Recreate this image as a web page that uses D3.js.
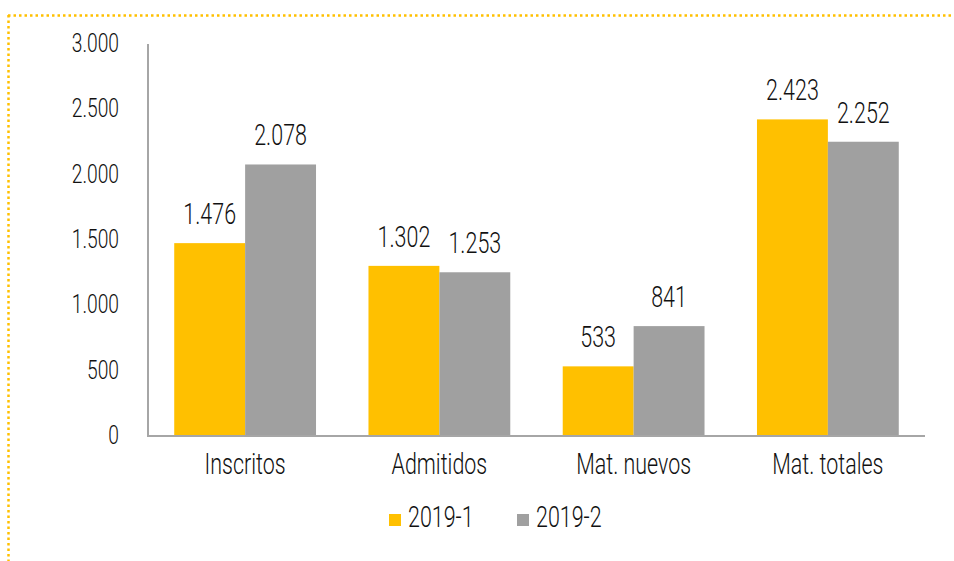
<!DOCTYPE html>
<html><head><meta charset="utf-8">
<script src="https://cdn.jsdelivr.net/npm/d3@7"></script>
<style>
body{margin:0;background:#fff;}
text{font-family:"Roboto","Liberation Sans",sans-serif;fill:#111;font-weight:300;}
</style></head>
<body><svg id="c" width="954" height="561"></svg>
<script>
const categories = ["Inscritos","Admitidos","Mat. nuevos","Mat. totales"];
const seriesNames = ["2019-1","2019-2"];
const values2019_1 = [1476,1302,533,2423];
const values2019_2 = [2078,1253,841,2252];
const yTicks = [0,500,1000,1500,2000,2500,3000];
const colors = ["#FFC000","#A0A0A0"];

const svg = d3.select("#c");
const fmt = v => d3.format(",")(v).replace(/,/g,".");
const SX = 0.74;
function label(x, y, txt, size, anchor){
  return svg.append("text").attr("transform",`translate(${x},${y}) scale(${SX},1)`)
    .attr("text-anchor",anchor).attr("font-size",size).text(txt);
}

// dotted frame
svg.append("line").attr("x1",8).attr("x2",954).attr("y1",15.5).attr("y2",15.5)
  .attr("stroke","#FFC000").attr("stroke-width",2.5).attr("stroke-dasharray","2.5 3");
svg.append("line").attr("x1",8.5).attr("x2",8.5).attr("y1",15).attr("y2",561)
  .attr("stroke","#FFC000").attr("stroke-width",2.5).attr("stroke-dasharray","2.5 3");

const x0 = d3.scaleBand().domain(categories).range([148,925]).paddingInner(0.27).paddingOuter(0.135);
const x1 = d3.scaleBand().domain(seriesNames).range([0,x0.bandwidth()]);
const y = d3.scaleLinear().domain([0,3000]).range([436,44]);

const data = categories.map((c,i)=>({c, v:[values2019_1[i],values2019_2[i]]}));

data.forEach(d=>{
  d.v.forEach((v,j)=>{
    const xx = x0(d.c)+x1(seriesNames[j]);
    svg.append("rect").attr("x",xx).attr("y",y(v)).attr("width",x1.bandwidth()).attr("height",y(0)-y(v)).attr("fill",colors[j]);
    label(xx+x1.bandwidth()/2, y(v)-19, fmt(v), 29, "middle");
  });
});

// axes
svg.append("line").attr("x1",148).attr("x2",148).attr("y1",44).attr("y2",436).attr("stroke","#A6A6A6").attr("stroke-width",2);
svg.append("line").attr("x1",147).attr("x2",925).attr("y1",436).attr("y2",436).attr("stroke","#A6A6A6").attr("stroke-width",2);

yTicks.forEach(t=>{
  label(119, y(t)+8, fmt(t), 26, "end");
});
categories.forEach(c=>{
  label(x0(c)+x0.bandwidth()/2, 474, c, 29, "middle");
});

// legend
const legX = [389,517];
seriesNames.forEach((s,j)=>{
  svg.append("rect").attr("x",legX[j]).attr("y",514).attr("width",12).attr("height",12).attr("fill",colors[j]);
  label(legX[j]+19, 527, s, 29, "start");
});
</script></body></html>
